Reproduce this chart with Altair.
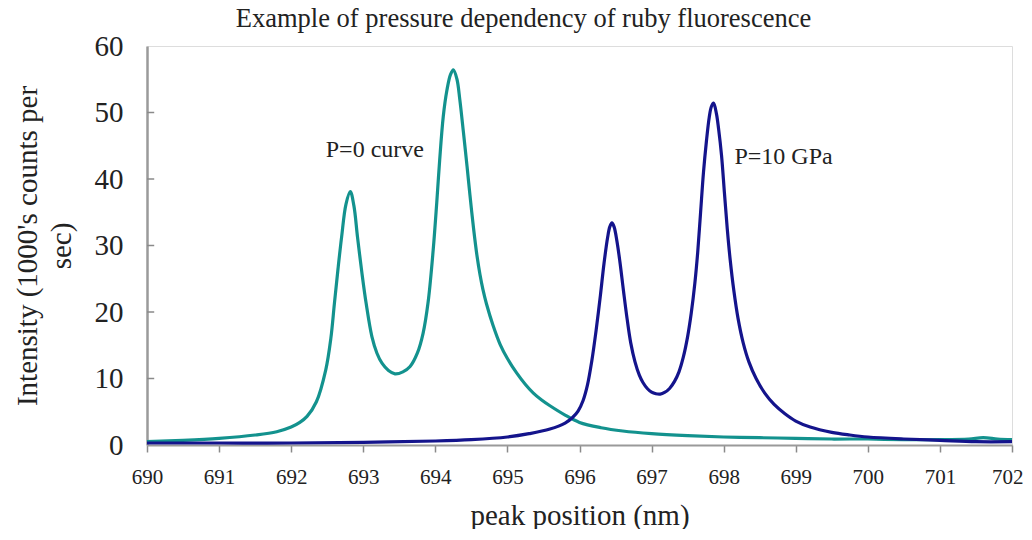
import altair as alt
import pandas as pd

# P=0 curve (teal)
p0_nm = [690.0, 690.5, 691.0, 691.5, 691.8, 692.0, 692.12, 692.22, 692.35, 692.48, 692.55, 692.60,
         692.65, 692.70, 692.76, 692.82, 692.87, 692.92, 692.98, 693.04, 693.12, 693.19, 693.26,
         693.35, 693.44, 693.55, 693.65, 693.75, 693.83, 693.90, 693.97, 694.02, 694.06, 694.11,
         694.16, 694.21, 694.25, 694.30, 694.34, 694.39, 694.44, 694.48, 694.53, 694.58, 694.62,
         694.66, 694.71, 694.80, 694.90, 695.0, 695.13, 695.25, 695.36, 695.47, 695.59, 695.8,
         696.0, 696.3, 696.6, 697.0, 697.5, 698.0, 698.5, 699.0, 699.5, 700.0, 700.5, 701.0,
         701.4, 701.6, 701.8, 702.0]
p0_int = [0.5, 0.7, 1.0, 1.5, 2.0, 2.7, 3.4, 4.3, 6.5, 11.3, 16.0, 21.3,
          26.5, 31.3, 36.2, 38.1, 36.0, 31.3, 26.0, 21.3, 16.3, 13.8, 12.3,
          11.2, 10.7, 11.0, 11.8, 13.8, 16.8, 21.5, 29.3, 36.5, 42.8, 49.4,
          53.3, 55.7, 56.4, 55.0, 51.9, 47.0, 41.9, 37.6, 32.6, 28.3, 25.6,
          23.4, 21.2, 18.0, 15.1, 13.0, 10.8, 9.1, 7.8, 6.8, 5.9, 4.5,
          3.4, 2.6, 2.1, 1.7, 1.4, 1.2, 1.1, 1.0, 0.9, 0.9, 0.8, 0.8,
          0.9, 1.1, 0.9, 0.8]

# P=10 GPa curve (navy)
p10_nm = [690.0, 691.0, 692.0, 693.0, 694.0, 694.5, 695.0, 695.3, 695.59, 695.8, 695.9, 695.98,
          696.05, 696.11, 696.17, 696.23, 696.29, 696.34, 696.39, 696.42, 696.45, 696.48, 696.52,
          696.56, 696.61, 696.66, 696.71, 696.77, 696.83, 696.88, 696.94, 697.00, 697.06, 697.12,
          697.18, 697.25, 697.32, 697.38, 697.44, 697.50, 697.55, 697.60, 697.64, 697.68, 697.72,
          697.76, 697.80, 697.83, 697.86, 697.90, 697.93, 697.97, 698.01, 698.05, 698.09, 698.14,
          698.20, 698.27, 698.35, 698.45, 698.57, 698.70, 698.85, 699.0, 699.2, 699.5, 699.75,
          700.0, 700.5, 701.0, 701.5, 702.0]
p10_int = [0.3, 0.3, 0.3, 0.4, 0.6, 0.8, 1.2, 1.7, 2.4, 3.3, 4.1, 5.1,
           6.7, 9.0, 12.6, 17.2, 22.5, 27.3, 31.2, 32.8, 33.4, 32.8, 30.6,
           27.6, 23.2, 19.0, 15.4, 12.5, 10.5, 9.4, 8.5, 7.95, 7.7, 7.65,
           7.9, 8.5, 9.6, 11.0, 13.2, 16.3, 19.8, 24.3, 29.0, 35.0, 41.0,
           45.6, 49.3, 50.9, 51.4, 49.8, 47.5, 43.6, 38.0, 32.5, 27.9, 23.3,
           19.0, 15.4, 12.5, 10.0, 7.8, 6.1, 4.7, 3.6, 2.7, 1.9, 1.5,
           1.2, 0.9, 0.7, 0.5, 0.5]

series_names = ["P=0", "P=10 GPa"]
series_colors = ["#13928e", "#14148c"]

y_ticks = [10, 20, 30, 40, 50]
x_ticks = list(range(690, 703))

ann_text = ["P=0 curve", "P=10 GPa"]
ann_x = [692.48, 698.15]
ann_y = [44.4, 43.3]

SERIF = "Liberation Serif, Times New Roman, serif"

df = pd.concat([
    pd.DataFrame({"nm": p0_nm, "intensity": p0_int, "series": series_names[0]}),
    pd.DataFrame({"nm": p10_nm, "intensity": p10_int, "series": series_names[1]}),
])
ann = pd.DataFrame({"text": ann_text, "nm": ann_x, "intensity": ann_y})
ticks_df = pd.DataFrame({"v": y_ticks, "x0": [690.0] * len(y_ticks), "x1": [690.1] * len(y_ticks)})

xscale = alt.Scale(domain=[690, 702], nice=False, zero=False)
yscale = alt.Scale(domain=[0, 60], nice=False)

last_label = "datum.value == 702"

lines = alt.Chart(df).mark_line(strokeWidth=3.2, interpolate="catmull-rom").encode(
    x=alt.X("nm:Q", scale=xscale,
            axis=alt.Axis(values=x_ticks, format="d", title="peak position (nm)",
                          grid=False, domainColor="#9a9a9a", domainWidth=2,
                          tickColor="#8a8a8a", tickSize=7, tickWidth=1.5,
                          labelFont=SERIF, labelFontSize=21, labelColor="#222222",
                          labelPadding=14, labelFlush=False,
                          labelAlign={"condition": {"test": last_label, "value": "right"},
                                      "value": "center"},
                          labelOffset={"condition": {"test": last_label, "value": 11},
                                       "value": 0},
                          titleFont=SERIF, titleFontSize=29, titleFontWeight="normal",
                          titleColor="#222222", titlePadding=14)),
    y=alt.Y("intensity:Q", scale=yscale,
            axis=alt.Axis(values=[0, 10, 20, 30, 40, 50, 60],
                          title=["Intensity (1000's counts per", "sec)"],
                          grid=False, ticks=False, domainColor="#9a9a9a", domainWidth=2.5,
                          labelFont=SERIF, labelFontSize=29, labelColor="#222222",
                          labelPadding=24,
                          titleFont=SERIF, titleFontSize=29, titleFontWeight="normal",
                          titleColor="#222222", titlePadding=18, titleLineHeight=34)),
    color=alt.Color("series:N", scale=alt.Scale(domain=series_names, range=series_colors),
                    legend=None),
    detail="series:N",
)

yticks = alt.Chart(ticks_df).mark_rule(color="#8a8a8a", strokeWidth=1.5).encode(
    x=alt.X("x0:Q", scale=xscale),
    x2="x1:Q",
    y=alt.Y("v:Q", scale=yscale),
)

labels = alt.Chart(ann).mark_text(font=SERIF, fontSize=24, align="left",
                                  baseline="middle", color="#222222").encode(
    x=alt.X("nm:Q", scale=xscale),
    y=alt.Y("intensity:Q", scale=yscale),
    text="text:N",
)

chart = alt.layer(yticks, lines, labels).properties(
    width=865,
    height=399,
    autosize=alt.AutoSizeParams(type="none"),
    padding={"left": 139, "top": 38, "right": 12, "bottom": 84},
    title=alt.TitleParams(
        "Example of pressure dependency of ruby fluorescence",
        font=SERIF, fontSize=26.5, fontWeight="normal", color="#222222",
        anchor="middle", dx=-56, offset=0,
    ),
).configure_view(stroke="#9a9a9a", strokeWidth=1.5).configure(font=SERIF)

chart.save("out.html", embed_options={"renderer": "svg", "actions": False})
